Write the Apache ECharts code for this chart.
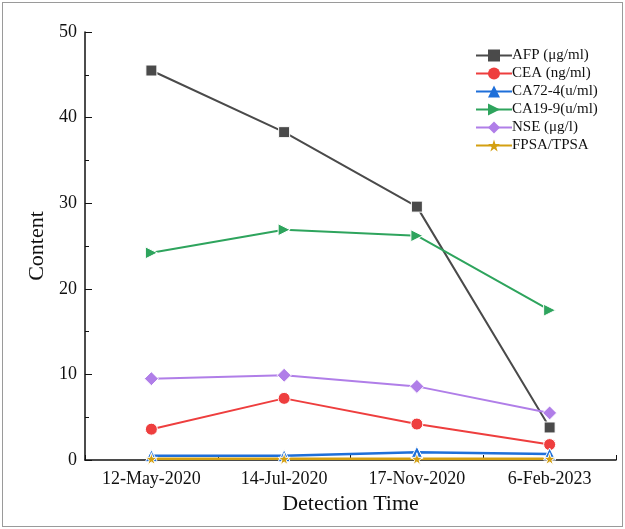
<!DOCTYPE html>
<html>
<head>
<meta charset="utf-8">
<script src="https://cdn.jsdelivr.net/npm/echarts@6/dist/echarts.min.js"></script>
<style>
    html, body { margin: 0; padding: 0; background: #fff; }
    #frame {
        position: absolute; left: 2px; top: 2px; width: 619px; height: 523px;
        border: 1px solid #9a9a9a;
    }
    #chart { position: absolute; left: 0; top: 0; width: 625px; height: 529px; }
</style>
</head>
<body>
<div id="frame"></div>
<div id="chart"></div>
<script>
    // 数据
    const dates = ['12-May-2020', '14-Jul-2020', '17-Nov-2020', '6-Feb-2023'];
    const afp = [45.5, 38.3, 29.6, 3.8];
    const cea = [3.6, 7.2, 4.2, 1.8];
    const ca724 = [0.5, 0.5, 0.9, 0.7];
    const ca199 = [24.2, 26.9, 26.2, 17.5];
    const nse = [9.5, 9.9, 8.6, 5.5];
    const fpsa = [0.15, 0.15, 0.15, 0.15];
    const yTicks = { min: 0, max: 50, step: 10 };

    const star = 'path://M50,0 L61,35 L98,35 L68,57 L79,91 L50,70 L21,91 L32,57 L2,35 L39,35 Z';
    const font = '"Liberation Serif", "Times New Roman", serif';

    function mk(name, data, color, symbol, size, rotate, width) {
        return {
            name: name,
            type: 'line',
            data: data,
            symbol: symbol,
            symbolSize: size,
            symbolRotate: rotate || 0,
            showSymbol: true,
            lineStyle: { color: color, width: width || 2 },
            itemStyle: { color: color, borderColor: '#fff', borderWidth: 1 },
            emphasis: { disabled: true }
        };
    }

    const chart = echarts.init(document.getElementById('chart'));
    chart.setOption({
        animation: false,
        textStyle: { fontFamily: font },
        grid: { left: 85, right: 9, top: 32, bottom: 69 },
        legend: {
            orient: 'vertical',
            left: 470,
            top: 43,
            itemWidth: 36,
            itemHeight: 15,
            itemGap: 3,
            itemStyle: { borderWidth: 0 },
            textStyle: { fontFamily: font, fontSize: 15, color: '#111', padding: [0, 0, 0, -5] },
            data: ['AFP (μg/ml)', 'CEA (ng/ml)', 'CA72-4(u/ml)', 'CA19-9(u/ml)', 'NSE (μg/l)', 'FPSA/TPSA']
        },
        xAxis: {
            type: 'category',
            data: dates,
            boundaryGap: true,
            name: 'Detection Time',
            nameLocation: 'middle',
            nameGap: 33,
            nameTextStyle: { fontFamily: font, fontSize: 22, color: '#111' },
            axisLine: { lineStyle: { color: '#111', width: 1.5 } },
            axisTick: { show: true, inside: true, length: 5, lineStyle: { color: '#111' } },
            axisLabel: { fontFamily: font, fontSize: 18, color: '#111', margin: 10 },
            splitLine: { show: false }
        },
        yAxis: {
            type: 'value',
            min: yTicks.min,
            max: yTicks.max,
            interval: yTicks.step,
            name: 'Content',
            nameLocation: 'middle',
            nameGap: 36,
            nameTextStyle: { fontFamily: font, fontSize: 22, color: '#111' },
            axisLine: { show: true, lineStyle: { color: '#111', width: 1.5 } },
            axisTick: { show: true, inside: true, length: 7, lineStyle: { color: '#111' } },
            minorTick: { show: true, splitNumber: 2, length: 4, lineStyle: { color: '#111' } },
            axisLabel: { fontFamily: font, fontSize: 18, color: '#111', margin: 8 },
            splitLine: { show: false }
        },
        series: [
            mk('AFP (μg/ml)', afp, '#4a4a4a', 'rect', 11),
            mk('CEA (ng/ml)', cea, '#ee3e3e', 'circle', 12),
            mk('CA72-4(u/ml)', ca724, '#1e6fd9', 'triangle', 12, 0, 2.5),
            mk('CA19-9(u/ml)', ca199, '#2ea45d', 'triangle', 12, -90),
            mk('NSE (μg/l)', nse, '#b07ee8', 'diamond', 14),
            mk('FPSA/TPSA', fpsa, '#d4a012', star, 12, 0, 2.5)
        ]
    });
</script>
</body>
</html>
